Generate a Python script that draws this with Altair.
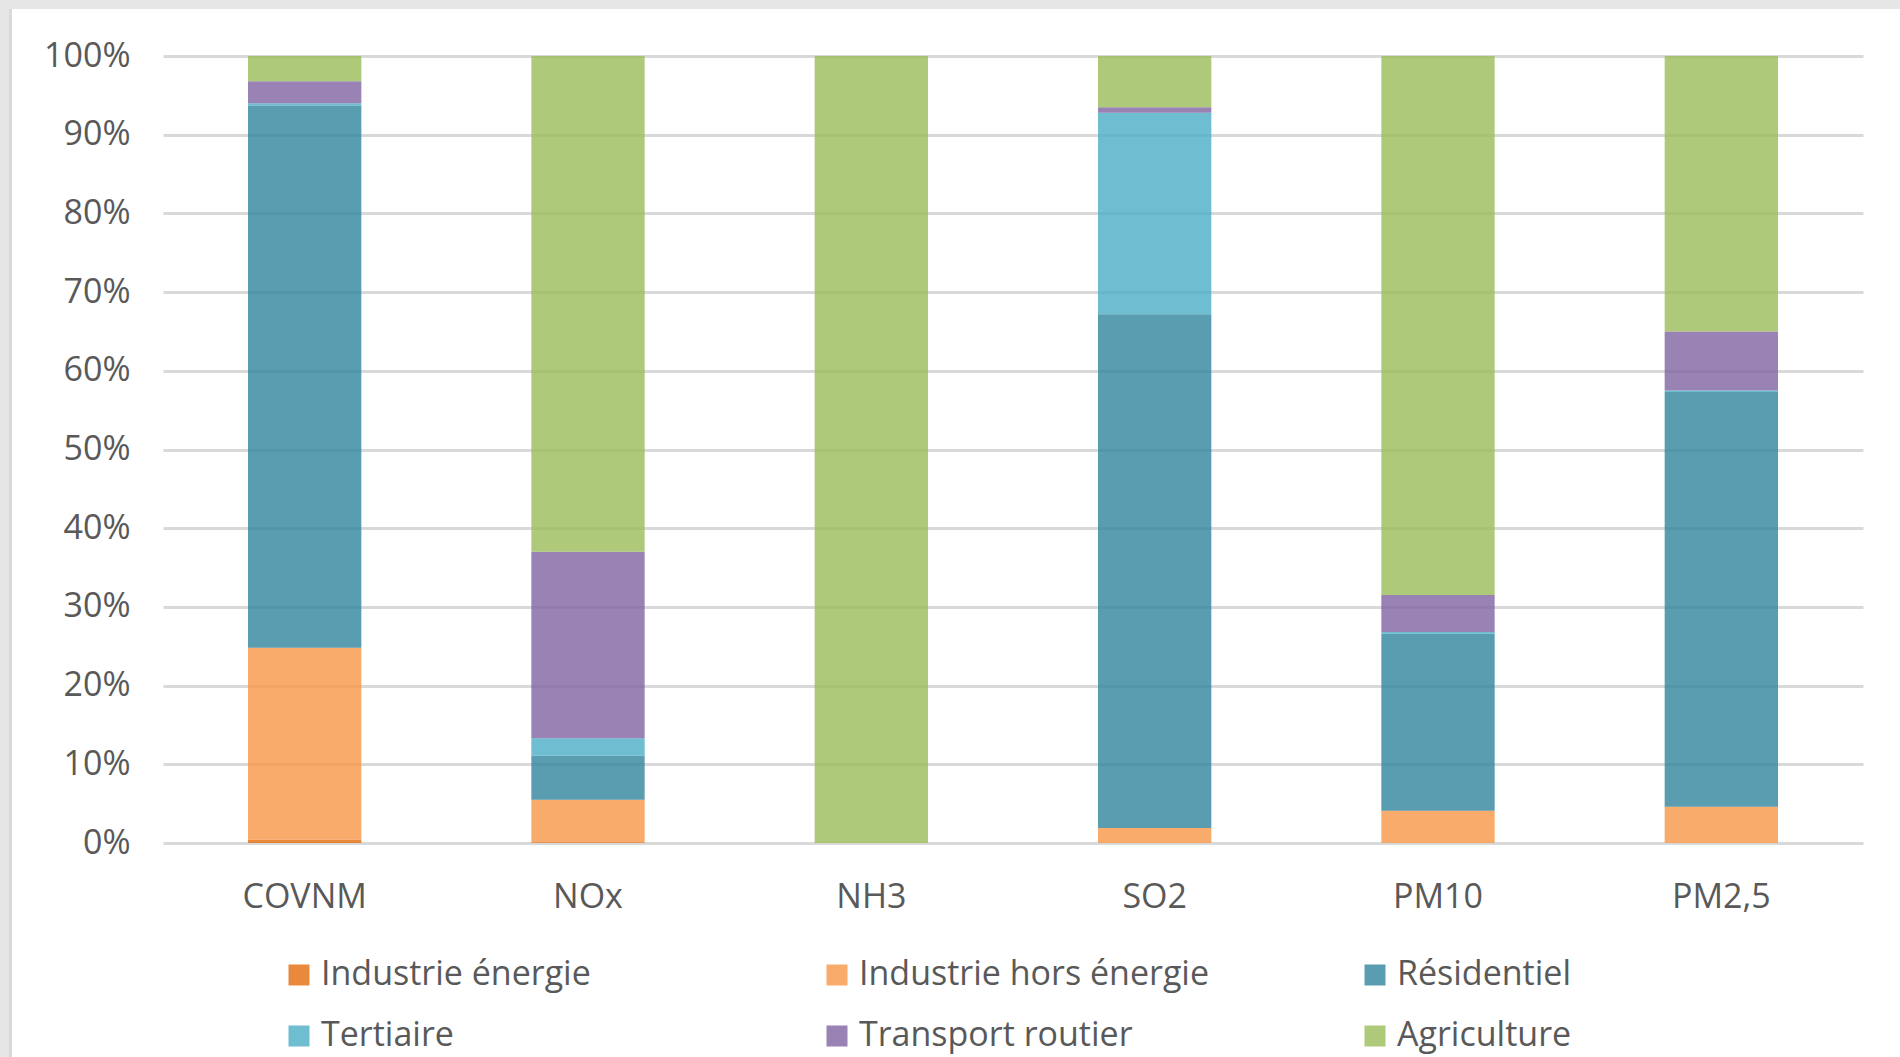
import altair as alt
import pandas as pd

# Polluants (x axis) and emitting sectors (stack order, bottom to top)
polluants = ["COVNM", "NOx", "NH3", "SO2", "PM10", "PM2,5"]
secteurs = ["Industrie énergie", "Industrie hors énergie", "Résidentiel",
            "Tertiaire", "Transport routier", "Agriculture"]
couleurs = ["#E46C0A", "#F79646", "#31859C", "#4BACC6", "#8064A2", "#9BBB59"]

# Share of each sector in the emissions of each pollutant (%)
industrie_energie = [0.4, 0.1, 0.0, 0.0, 0.0, 0.0]
industrie_hors_energie = [24.4, 5.4, 0.0, 1.9, 4.1, 4.6]
residentiel = [68.9, 5.6, 0.0, 65.3, 22.5, 52.7]
tertiaire = [0.3, 2.2, 0.0, 25.6, 0.2, 0.2]
transport_routier = [2.8, 23.7, 0.0, 0.7, 4.7, 7.5]
agriculture = [3.2, 63.0, 100.0, 6.5, 68.5, 35.0]

series = [industrie_energie, industrie_hors_energie, residentiel,
          tertiaire, transport_routier, agriculture]

rows = []
for rang, (secteur, valeurs) in enumerate(zip(secteurs, series)):
    for polluant, part in zip(polluants, valeurs):
        rows.append({"polluant": polluant, "secteur": secteur,
                     "part": part, "rang": rang})
df = pd.DataFrame(rows)

FONT = "Open Sans"
GREY_TEXT = "#595959"
W, H = 1700, 787
LEFT, TOP = 163, 56

one = pd.DataFrame({"k": [0]})

# light grey page frame (top and left edges)
frame_top = alt.Chart(one).mark_rect(color="#e6e6e6").encode(
    x=alt.value(-LEFT), x2=alt.value(1900 - LEFT),
    y=alt.value(-TOP), y2=alt.value(-TOP + 9))
frame_left = alt.Chart(one).mark_rect(color="#e6e6e6").encode(
    x=alt.value(-LEFT), x2=alt.value(-LEFT + 9),
    y=alt.value(-TOP), y2=alt.value(1057 - TOP))
frame_edge = alt.Chart(one).mark_rect(color="#d9d9d9").encode(
    x=alt.value(-LEFT + 9), x2=alt.value(-LEFT + 12),
    y=alt.value(-TOP + 9), y2=alt.value(1057 - TOP))

bars = alt.Chart(df).mark_bar(opacity=0.8).encode(
    x=alt.X("polluant:N", sort=polluants, title=None,
            scale=alt.Scale(paddingInner=0.6, paddingOuter=0.3),
            axis=alt.Axis(labelAngle=0, labelFont=FONT, labelFontSize=34,
                          labelColor=GREY_TEXT, labelPadding=64,
                          labelBaseline="alphabetic", ticks=False, tickSize=0,
                          domain=False, grid=False)),
    y=alt.Y("part:Q", stack="zero", title=None,
            scale=alt.Scale(domain=[0, 100], nice=False),
            axis=alt.Axis(values=list(range(0, 101, 10)),
                          labelExpr="datum.value + '%'",
                          labelFont=FONT, labelFontSize=34, labelColor=GREY_TEXT,
                          labelPadding=33, ticks=False, tickSize=0, domain=False,
                          grid=True, gridColor="#d9d9d9", gridWidth=3)),
    color=alt.Color("secteur:N", sort=secteurs,
                    scale=alt.Scale(domain=secteurs, range=couleurs),
                    legend=alt.Legend(title=None, orient="none",
                                      direction="horizontal",
                                      legendX=119, legendY=902,
                                      columns=3, gridAlign="all",
                                      columnPadding=148, rowPadding=27,
                                      symbolType="square", symbolSize=441,
                                      symbolStrokeWidth=0, symbolOpacity=0.8,
                                      labelFont=FONT, labelFontSize=34,
                                      labelColor=GREY_TEXT, labelOffset=5,
                                      labelLimit=600)),
    order=alt.Order("rang:Q", sort="ascending"),
)

chart = alt.layer(frame_top, frame_left, frame_edge, bars).properties(
    width=W, height=H,
    autosize=alt.AutoSizeParams(type="none"),
    padding={"left": LEFT, "top": TOP, "right": 1900 - LEFT - W,
             "bottom": 1057 - TOP - H},
    background="white",
).configure_view(stroke=None)

chart.save("out.html", embed_options={"renderer": "svg", "actions": False})
